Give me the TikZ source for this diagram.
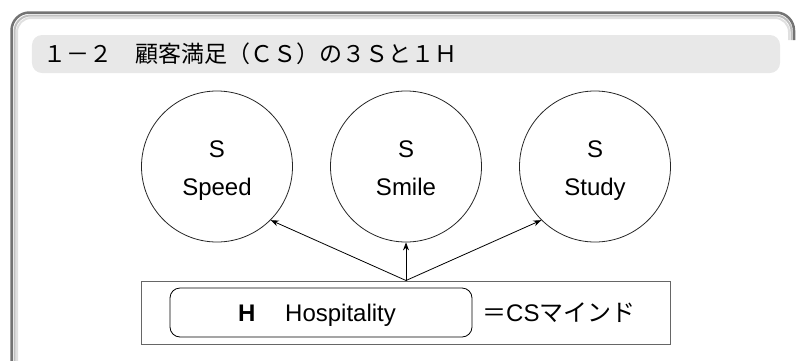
\documentclass[tikz,border=0pt]{standalone}
\usepackage{fontspec}
\setmainfont{Liberation Sans}
\newfontfamily\jp{Noto Sans CJK JP}
\usetikzlibrary{arrows.meta}
\begin{document}
\begin{tikzpicture}[x={(1bp,0)},y={(0,-1bp)},
  ball/.style={circle,draw=black!85,line width=0.8bp,minimum size=151bp,inner sep=0pt},
  lbl/.style={inner sep=0pt,font=\fontsize{24bp}{28bp}\selectfont},
  conn/.style={line width=0.8bp,-{Stealth[length=8bp,width=6bp]}},
  bar/.style={fill=black!9,draw=none,rounded corners=10bp,minimum width=748bp,minimum height=38bp,inner sep=0pt},
  hbox/.style={draw=black!60,line width=1bp,minimum width=529bp,minimum height=63bp,inner sep=0pt},
  hinner/.style={draw=black,line width=0.8bp,rounded corners=10bp,minimum width=302bp,minimum height=49bp,inner sep=0pt}]
\useasboundingbox (0,0) rectangle (797,360);
% outer frame with soft shadowed edge
\draw[black!12,line width=2bp,rounded corners=14bp] (17,362) -- (17,18) -- (789,18) -- (789,40);
\draw[black!25,line width=2bp,rounded corners=16bp] (14.5,362) -- (14.5,15.5) -- (791.5,15.5) -- (791.5,40);
\draw[black!55,line width=2.5bp,rounded corners=18bp] (11.5,362) -- (11.5,12.5) -- (794,12.5) -- (794,40);
% title bar
\node[bar] (tbar) at (406,54) {};
\node[lbl,anchor=base west,font=\fontsize{23bp}{28bp}\selectfont\jp] (ttext) at (43,62.7) {１－２　顧客満足（ＣＳ）の３Ｓと１Ｈ};
% circles
\node[ball] (speed) at (217,166.5) {};
\node[ball] (smile) at (406,166.5) {};
\node[ball] (study) at (595,166.5) {};
\node[lbl,anchor=base] (speedS) at (217,157) {S};
\node[lbl,anchor=base] (speedT) at (217,195) {Speed};
\node[lbl,anchor=base] (smileS) at (406,157) {S};
\node[lbl,anchor=base] (smileT) at (406,195) {Smile};
\node[lbl,anchor=base] (studyS) at (595,157) {S};
\node[lbl,anchor=base] (studyT) at (595,195) {Study};
% bottom box
\node[hbox] (hb) at (406,312.5) {};
\node[hinner] (hin) at (321,312.5) {};
\node[lbl,anchor=base west] (hH) at (238,321) {\bfseries H};
\node[lbl,anchor=base west] (hHosp) at (285,321) {Hospitality};
\node[lbl,anchor=base west] (hmind) at (482,321) {{\jp ＝}CS{\jp マインド}};
% connectors
\draw[conn] (hb.north) -- (speed.south east);
\draw[conn] (hb.north) -- (smile.south);
\draw[conn] (hb.north) -- (study.south west);
\end{tikzpicture}
\end{document}
